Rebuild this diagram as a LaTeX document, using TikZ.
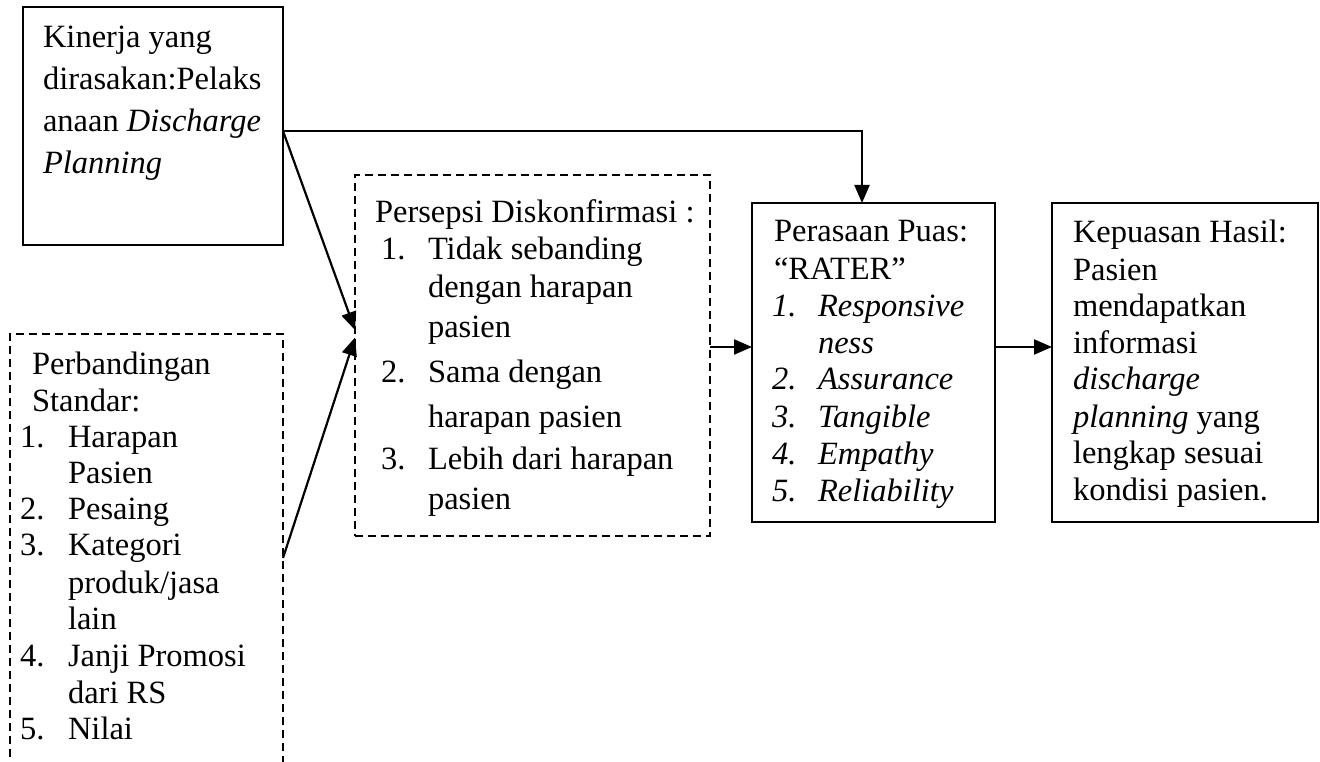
\documentclass[tikz,border=0pt]{standalone}
\usepackage{fontspec}
\setmainfont{Liberation Serif}
\usetikzlibrary{arrows.meta}
\begin{document}
\begin{tikzpicture}[x=1pt,y=-1pt,
  box/.style={draw, line width=2.2pt, inner sep=0pt, outer sep=0pt, anchor=north west},
  dbox/.style={box, line width=1.8pt, dash pattern=on 8pt off 5pt},
  txt/.style={anchor=base west, inner sep=0pt, outer sep=0pt, font=\fontsize{32.5}{38}\selectfont},
  arr/.style={line width=2.2pt, -{Triangle[length=18pt,width=15pt]}}]
\clip (0,0) rectangle (1320,762);
\fill[white] (0,0) rectangle (1320,762);

% boxes
\node[box, minimum width=260pt, minimum height=238pt] (A) at (23,7) {};
\node[dbox, minimum width=273pt, minimum height=456pt] (D) at (10,334) {};
\node[dbox, minimum width=355pt, minimum height=361pt] (B) at (355,175) {};
\node[box, minimum width=243pt, minimum height=319pt] (C) at (752,203) {};
\node[box, minimum width=266pt, minimum height=319pt] (E) at (1052,203) {};

% texts: Kinerja
\foreach \y/\t [count=\i] in {48/{Kinerja yang}, 90/{dirasakan:Pelaks}, 132/{anaan \textit{Discharge}}, 174/{\textit{Planning}}}
  {\node[txt] (ka\i) at (43,\y) {\t};}

% Perbandingan
\node[txt] (pb1) at (32,374) {Perbandingan};
\node[txt] (pb2) at (32,411) {Standar:};
\foreach \y/\n/\t [count=\i] in {447/1./Harapan, 483//Pasien, 519/2./Pesaing, 555/3./Kategori, 593//{produk/jasa}, 629//lain, 666/4./{Janji Promosi}, 703//{dari RS}, 739/5./Nilai}
  {\node[txt] (pn\i) at (20,\y) {\n};
   \node[txt] (pt\i) at (68,\y) {\t};}

% Persepsi
\node[txt] (ps0) at (375,223) {Persepsi Diskonfirmasi :};
\foreach \y/\n/\t [count=\i] in {259/1./{Tidak sebanding}, 298//{dengan harapan}, 337//pasien, 382/2./{Sama dengan}, 427//{harapan pasien}, 469/3./{Lebih dari harapan}, 509//pasien}
  {\node[txt] (psn\i) at (381,\y) {\n};
   \node[txt] (pst\i) at (428,\y) {\t};}

% Perasaan
\node[txt] (pr1) at (774,242) {Perasaan Puas:};
\node[txt] (pr2) at (774,279) {“RATER”};
\foreach \y/\n/\t [count=\i] in {316/1./Responsive, 353//ness, 389/2./Assurance, 427/3./Tangible, 464/4./Empathy, 501/5./Reliability}
  {\node[txt] (prn\i) at (772,\y) {\textit{\n}};
   \node[txt] (prt\i) at (818,\y) {\textit{\t}};}

% Kepuasan
\foreach \y/\t [count=\i] in {243/{Kepuasan Hasil:}, 280/Pasien, 316/mendapatkan, 353/informasi, 389/{\textit{discharge}}, 427/{\textit{planning} yang}, 463/{lengkap sesuai}, 500/{kondisi pasien.}}
  {\node[txt] (kp\i) at (1073,\y) {\t};}

% connectors
\coordinate (aout) at ([yshift=-5pt]A.east);
\draw[arr] (aout) -| ([xshift=-11.5pt]C.north);
\draw[arr] (aout) -- ([yshift=25.5pt]B.west);
\draw[arr] ([yshift=4pt]D.east) -- ([yshift=18pt]B.west);
\coordinate (bo) at ([yshift=8.5pt]B.east);
\draw[arr] (bo) -- (bo -| C.west);
\coordinate (co) at ([yshift=15.5pt]C.east);
\draw[arr] (co) -- (co -| E.west);
\end{tikzpicture}
\end{document}
